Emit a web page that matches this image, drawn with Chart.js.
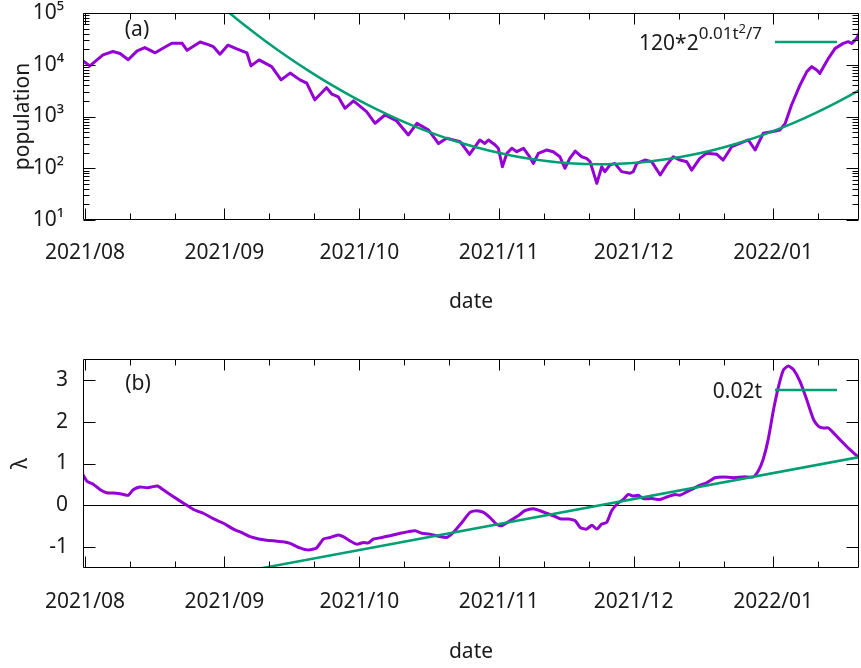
<!DOCTYPE html>
<html>
<head>
<meta charset="utf-8">
<script src="https://cdn.jsdelivr.net/npm/chart.js@4.4.1/dist/chart.umd.min.js"></script>
<style>
    html, body { margin: 0; padding: 0; background: #fff; }
    #wrap { position: relative; width: 861px; height: 668px; }
    canvas { position: absolute; left: 0; }
</style>
</head>
<body>
<div id="wrap">
    <canvas id="popChart" width="861" height="350" style="top:0"></canvas>
    <canvas id="lambdaChart" width="861" height="318" style="top:350px"></canvas>
</div>
<script>
// x values are days counted from 2021-08-01
const monthLabels = ['2021/08', '2021/09', '2021/10', '2021/11', '2021/12', '2022/01'];
const monthStartDays = [0, 31, 61, 92, 122, 153];
const minorTickDays = [10, 20, 41, 51, 71, 81, 102, 112, 132, 142, 163];

const popTicks = [10, 100, 1000, 10000, 100000];
const lambdaTicks = [-1, 0, 1, 2, 3];

// (a) population
const popDays = [-0.5, 1.1, 2.2, 4.0, 6.2, 7.8, 9.6, 11.6, 13.3, 15.6, 17.8, 19.3, 21.6, 22.7, 25.6, 27.4, 28.5, 30.0,
    31.8, 33.6, 36.0, 36.9, 38.7, 41.5, 43.6, 45.6, 47.8, 49.3, 51.1, 53.7, 54.9, 56.3, 57.8, 59.7, 62.6, 64.5, 66.7,
    69.3, 71.9, 73.8, 76.4, 78.6, 80.4, 83.4, 85.5, 87.8, 88.9, 89.7, 91.2, 91.9, 92.8, 93.8, 94.9, 96.0, 97.5, 98.6,
    99.7, 100.8, 102.6, 104.1, 105.6, 106.7, 107.8, 109.0, 110.4, 111.5, 112.3, 113.8, 114.9, 115.6, 116.7, 117.8,
    119.3, 121.2, 121.9, 122.7, 124.5, 126.0, 127.9, 129.3, 130.8, 132.3, 133.8, 134.9, 136.7, 138.2, 140.5, 141.9,
    143.8, 145.6, 147.5, 149.0, 150.8, 152.7, 154.5, 155.7, 157.1, 159.0, 160.5, 161.6, 162.7, 163.4, 165.3, 166.8,
    168.6, 169.7, 170.5, 171.6, 172.3];
const popValues = [12000, 9500, 11500, 15500, 18000, 16500, 12500, 18500, 21500, 17000, 22000, 26000, 26000, 19000,
    27500, 24500, 22500, 16000, 24000, 20500, 17000, 9500, 12400, 9200, 5100, 6900, 5100, 4400, 2100, 3600, 2700,
    2400, 1440, 2000, 1240, 740, 1070, 820, 440, 740, 545, 300, 380, 326, 185, 352, 302, 352, 281, 243, 107, 194,
    243, 209, 243, 180, 124, 194, 225, 209, 167, 100, 155, 215, 167, 155, 134, 51, 107, 86, 115, 124, 86, 80, 86,
    124, 144, 134, 74, 115, 167, 144, 134, 92, 155, 194, 186, 144, 261, 302, 352, 225, 473, 509, 545, 738, 1670,
    4070, 7350, 9180, 7900, 6820, 13300, 20700, 25900, 27900, 25900, 32400, 43600];

// green curve 120*2^(0.01t^2/7)
const popFitDays = [30, 35, 40, 45, 50, 55, 60, 65, 70, 75, 80, 85, 90, 95, 100, 105, 110, 115, 120, 125, 130, 135,
    140, 145, 150, 155, 160, 165, 170, 173];
const popFitValues = [141000, 62700, 29200, 14300, 7380, 3990, 2270, 1360, 853, 563, 390, 284, 217, 175, 148, 131,
    122, 120, 124, 134, 152, 182, 228, 301, 418, 609, 932, 1500, 2535, 3556];

// (b) lambda
const lambdaDays = [-0.5, 0.4, 1.9, 3.3, 4.8, 7.0, 8.5, 9.6, 10.7, 12.2, 13.7, 14.8, 16.1, 17.4, 19.6, 21.9, 24.1,
    26.3, 28.5, 30.8, 33.0, 35.2, 36.7, 38.9, 41.9, 44.1, 45.6, 47.8, 49.7, 51.5, 53.0, 54.5, 56.3, 57.4, 58.9, 60.4,
    61.9, 63.0, 64.1, 66.0, 67.8, 70.1, 71.9, 73.4, 74.9, 76.7, 78.9, 80.4, 81.9, 83.8, 85.6, 87.1, 88.6, 90.0, 91.5,
    92.6, 94.5, 96.3, 97.8, 99.7, 101.2, 102.6, 104.1, 105.6, 107.5, 109.0, 110.1, 111.5, 112.7, 113.8, 114.9, 116.0,
    117.1, 118.6, 119.7, 120.8, 121.9, 123.0, 124.1, 126.0, 127.9, 129.7, 131.2, 132.3, 133.8, 135.3, 136.7, 138.2,
    140.1, 141.9, 144.2, 146.4, 148.6, 149.7, 150.8, 151.9, 153.1, 154.2, 155.3, 156.4, 157.5, 159.0, 160.5, 162.0,
    163.1, 164.2, 165.3, 166.8, 168.6, 170.1, 171.6, 172.5];
const lambdaValues = [0.74, 0.58, 0.50, 0.38, 0.30, 0.29, 0.26, 0.24, 0.37, 0.44, 0.42, 0.44, 0.46, 0.37, 0.21, 0.05,
    -0.10, -0.19, -0.32, -0.43, -0.57, -0.67, -0.75, -0.81, -0.85, -0.87, -0.91, -1.02, -1.07, -1.02, -0.81, -0.77,
    -0.71, -0.75, -0.85, -0.93, -0.89, -0.90, -0.81, -0.77, -0.73, -0.67, -0.63, -0.61, -0.67, -0.69, -0.75, -0.77,
    -0.65, -0.41, -0.17, -0.13, -0.17, -0.29, -0.45, -0.49, -0.37, -0.25, -0.13, -0.08, -0.13, -0.19, -0.25, -0.32,
    -0.33, -0.37, -0.53, -0.57, -0.48, -0.57, -0.45, -0.41, -0.13, 0.06, 0.14, 0.26, 0.22, 0.24, 0.16, 0.16, 0.14,
    0.21, 0.26, 0.24, 0.32, 0.40, 0.48, 0.54, 0.66, 0.68, 0.66, 0.68, 0.68, 0.82, 1.10, 1.57, 2.29, 2.84, 3.24, 3.33,
    3.25, 2.96, 2.52, 2.05, 1.89, 1.85, 1.85, 1.69, 1.49, 1.33, 1.19, 1.10];

// green line 0.02t
const lambdaFitDays = [30, 175];
const lambdaFitValues = [-1.69, 1.21];

const FONT = "'Noto Sans', 'Open Sans', sans-serif";
const FS = 21;
const TEXT = '#1a1a1a';
const PURPLE = '#9400d3';
const GREEN = '#009e73';
const X_MIN = -0.45;
const X_MAX = 172.1;

const SUP = { '0': '⁰', '1': '¹', '2': '²', '3': '³', '4': '⁴', '5': '⁵', '6': '⁶', '7': '⁷', '8': '⁸', '9': '⁹' };

function toPoints(xs, ys) {
    return xs.map((x, i) => ({ x: x, y: ys[i] }));
}

function popMinorTicks() {
    const out = [];
    for (let i = 0; i < popTicks.length - 1; i++) {
        for (let k = 2; k <= 9; k++) out.push(popTicks[i] * k);
    }
    return out;
}

// draw mixed-size text right-aligned at xRight; parts = [text, size, raise]
function drawRich(ctx, parts, xRight, baseline) {
    let total = 0;
    parts.forEach(p => {
        ctx.font = `${p[1]}px ${FONT}`;
        total += ctx.measureText(p[0]).width;
    });
    let x = xRight - total;
    ctx.textAlign = 'left';
    ctx.textBaseline = 'alphabetic';
    parts.forEach(p => {
        ctx.font = `${p[1]}px ${FONT}`;
        ctx.fillText(p[0], x, baseline - p[2]);
        x += ctx.measureText(p[0]).width;
    });
}

// gnuplot-like border with inward ticks, panel tag and key
const gnuplotFrame = {
    id: 'gnuplotFrame',
    afterDraw(chart, args, opts) {
        const { ctx, chartArea: a } = chart;
        const xs = chart.scales.x;
        const ys = chart.scales.y;
        const L = Math.round(a.left) + 0.5;
        const R = Math.round(a.right) - 0.5;
        const T = Math.round(a.top) + 0.5;
        const B = Math.round(a.bottom) - 0.5;

        ctx.save();
        ctx.strokeStyle = '#000';
        ctx.lineWidth = 1;
        ctx.beginPath();
        const xTick = (v, len) => {
            const p = Math.round(xs.getPixelForValue(v)) + 0.5;
            ctx.moveTo(p, B); ctx.lineTo(p, B - len);
            ctx.moveTo(p, T); ctx.lineTo(p, T + len);
        };
        const yTick = (v, len) => {
            const p = Math.round(ys.getPixelForValue(v)) + 0.5;
            ctx.moveTo(L, p); ctx.lineTo(L + len, p);
            ctx.moveTo(R, p); ctx.lineTo(R - len, p);
        };
        opts.xMajor.forEach(v => xTick(v, 11));
        opts.xMinor.forEach(v => xTick(v, 6));
        opts.yMajor.forEach(v => yTick(v, 12));
        (opts.yMinor || []).forEach(v => yTick(v, 6));
        ctx.rect(L, T, R - L, B - T);
        ctx.stroke();

        ctx.fillStyle = TEXT;
        ctx.font = `${FS}px ${FONT}`;
        ctx.textAlign = 'center';
        ctx.textBaseline = 'middle';
        ctx.fillText(opts.tag, opts.tagX, opts.tagY);

        drawRich(ctx, opts.key, 762, opts.keyBaseline);
        ctx.strokeStyle = GREEN;
        ctx.lineWidth = 2.5;
        ctx.beginPath();
        ctx.moveTo(775, opts.keyLineY);
        ctx.lineTo(837, opts.keyLineY);
        ctx.stroke();
        ctx.restore();
    }
};

function xAxis(height, labelPad, titlePad) {
    return {
        type: 'linear',
        min: X_MIN,
        max: X_MAX,
        afterBuildTicks: s => { s.ticks = monthStartDays.concat(minorTickDays).map(v => ({ value: v })); },
        afterFit: s => { s.height = height; s.paddingLeft = 0; s.paddingRight = 0; },
        grid: { display: false, drawTicks: false },
        border: { display: false },
        ticks: {
            autoSkip: false,
            maxRotation: 0,
            padding: labelPad,
            color: TEXT,
            font: { family: FONT, size: FS },
            callback: v => {
                const i = monthStartDays.indexOf(v);
                return i >= 0 ? monthLabels[i] : '';
            }
        },
        title: {
            display: true,
            text: 'date',
            color: TEXT,
            font: { family: FONT, size: FS },
            padding: { top: 0, bottom: titlePad }
        }
    };
}

// fixed-width y axis that does not push the plot area down
function fixY(s) {
    s.width = 83;
    s.paddingTop = 0;
    s.paddingBottom = 0;
}

const baseOptions = {
    responsive: false,
    animation: false,
    devicePixelRatio: 1,
    elements: { point: { radius: 0 }, line: { borderJoinStyle: 'round' } },
    events: []
};

new Chart(document.getElementById('popChart'), {
    type: 'line',
    data: {
        datasets: [{
            label: '120*2^(0.01t^2/7)',
            data: toPoints(popFitDays, popFitValues),
            borderColor: GREEN,
            borderWidth: 2.5,
            cubicInterpolationMode: 'monotone'
        }, {
            label: 'population',
            data: toPoints(popDays, popValues),
            borderColor: PURPLE,
            borderWidth: 3,
            tension: 0
        }]
    },
    options: {
        ...baseOptions,
        layout: { padding: { top: 13, right: 2, left: 0, bottom: 0 } },
        scales: {
            x: xAxis(130, 20, 35),
            y: {
                type: 'logarithmic',
                min: 10,
                max: 100000,
                afterBuildTicks: s => { s.ticks = popTicks.map(v => ({ value: v })); },
                afterFit: fixY,
                grid: { display: false, drawTicks: false },
                border: { display: false },
                ticks: {
                    padding: 19,
                    color: TEXT,
                    font: { family: FONT, size: FS },
                    callback: v => '10' + String(Math.round(Math.log10(v))).split('').map(c => SUP[c]).join('')
                },
                title: {
                    display: true,
                    text: 'population',
                    color: TEXT,
                    font: { family: FONT, size: FS },
                    padding: { top: 10, bottom: 0 }
                }
            }
        },
        plugins: {
            legend: { display: false },
            tooltip: { enabled: false },
            gnuplotFrame: {
                xMajor: monthStartDays,
                xMinor: minorTickDays,
                yMajor: popTicks,
                yMinor: popMinorTicks(),
                tag: '(a)', tagX: 137, tagY: 30,
                key: [['120*2', 21, 0], ['0.01t', 17, 11], ['2', 13, 17], ['/7', 17, 11]],
                keyBaseline: 50,
                keyLineY: 42
            }
        }
    },
    plugins: [gnuplotFrame]
});

new Chart(document.getElementById('lambdaChart'), {
    type: 'line',
    data: {
        datasets: [{
            label: '0.02t',
            data: toPoints(lambdaFitDays, lambdaFitValues),
            borderColor: GREEN,
            borderWidth: 2.5,
            tension: 0
        }, {
            label: 'lambda',
            data: toPoints(lambdaDays, lambdaValues),
            borderColor: PURPLE,
            borderWidth: 3,
            tension: 0.2
        }]
    },
    options: {
        ...baseOptions,
        layout: { padding: { top: 9, right: 2, left: 0, bottom: 0 } },
        scales: {
            x: xAxis(100, 21, 3),
            y: {
                type: 'linear',
                min: -1.5,
                max: 3.5,
                afterBuildTicks: s => { s.ticks = lambdaTicks.map(v => ({ value: v })); },
                afterFit: fixY,
                grid: {
                    drawTicks: false,
                    lineWidth: 1,
                    color: c => (c.tick && c.tick.value === 0 ? '#000' : 'rgba(0,0,0,0)')
                },
                border: { display: false },
                ticks: {
                    padding: 15,
                    color: TEXT,
                    font: { family: FONT, size: FS },
                    callback: v => String(v)
                },
                title: {
                    display: true,
                    text: 'λ',
                    color: TEXT,
                    font: { family: FONT, size: FS },
                    padding: { top: 8, bottom: 0 }
                }
            }
        },
        plugins: {
            legend: { display: false },
            tooltip: { enabled: false },
            gnuplotFrame: {
                xMajor: monthStartDays,
                xMinor: minorTickDays,
                yMajor: lambdaTicks,
                tag: '(b)', tagX: 138, tagY: 34,
                key: [['0.02t', 21, 0]],
                keyBaseline: 48,
                keyLineY: 40
            }
        }
    },
    plugins: [gnuplotFrame]
});
</script>
</body>
</html>
